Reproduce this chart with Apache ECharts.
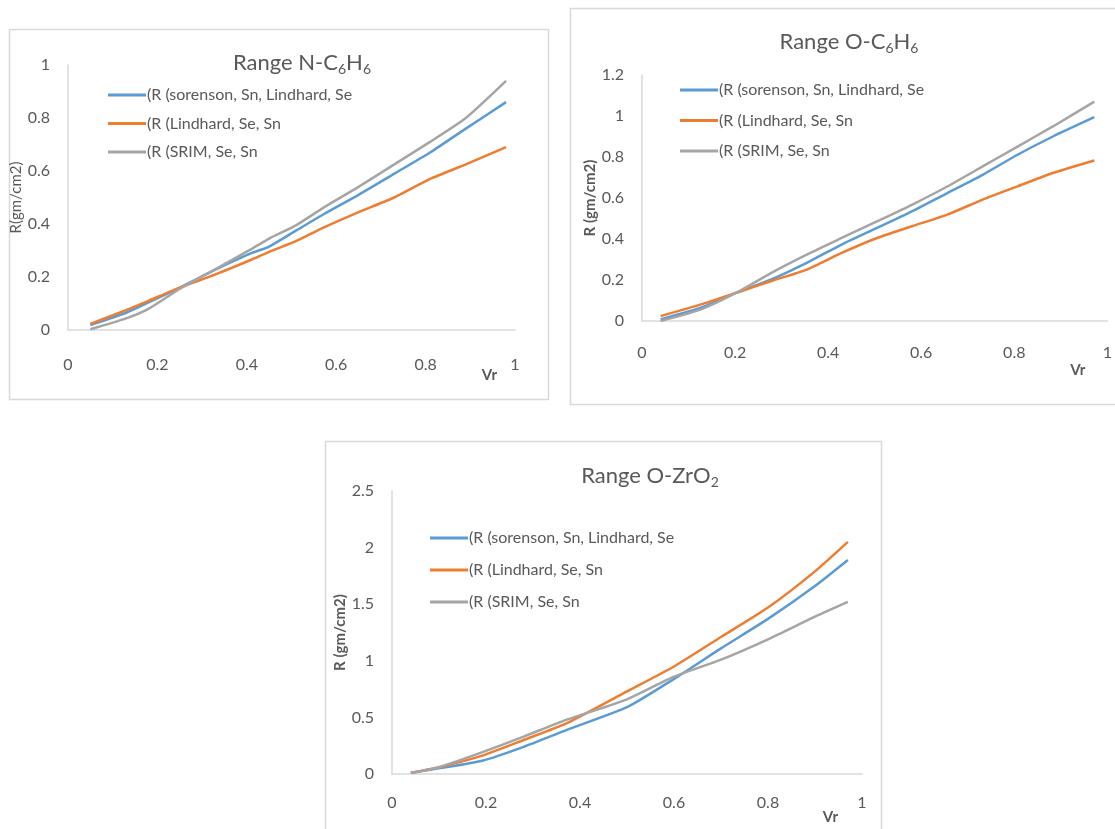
<!DOCTYPE html>
<html>
<head>
<meta charset="utf-8">
<script src="https://cdn.jsdelivr.net/npm/echarts@6/dist/echarts.min.js"></script>
<style>
  html, body { margin: 0; padding: 0; background: #fff; }
  #main { width: 1115px; height: 829px; }
</style>
</head>
<body>
<div id="main"></div>
<script>
// legend names, same for the three charts
const seriesNames = ["(R (sorenson, Sn, Lindhard, Se", "(R (Lindhard, Se, Sn", "(R (SRIM, Se, Sn"];
const colors = ["#5b9bd5", "#ed7d31", "#a5a5a5"];

// Range N-C6H6
const vrN = [0.05, 0.13, 0.18, 0.25, 0.33, 0.41, 0.45, 0.51, 0.57, 0.65, 0.73, 0.81, 0.89, 0.98];
const nSorenson = [0.019, 0.065, 0.104, 0.16, 0.228, 0.29, 0.315, 0.375, 0.435, 0.51, 0.59, 0.67, 0.76, 0.86];
const nLindhard = [0.023, 0.075, 0.11, 0.16, 0.21, 0.265, 0.295, 0.335, 0.385, 0.445, 0.50, 0.57, 0.625, 0.69];
const nSrim = [0.003, 0.044, 0.08, 0.155, 0.23, 0.305, 0.345, 0.395, 0.46, 0.54, 0.625, 0.71, 0.80, 0.94];

// Range O-C6H6
const vrO = [0.04, 0.127, 0.203, 0.278, 0.354, 0.429, 0.505, 0.58, 0.656, 0.732, 0.807, 0.883, 0.972];
const oSorenson = [0.008, 0.065, 0.138, 0.203, 0.284, 0.373, 0.454, 0.535, 0.624, 0.713, 0.811, 0.9, 0.994];
const oLindhard = [0.024, 0.081, 0.138, 0.195, 0.251, 0.332, 0.405, 0.462, 0.519, 0.592, 0.657, 0.722, 0.783];
const oSrim = [0.0, 0.057, 0.138, 0.235, 0.324, 0.405, 0.486, 0.567, 0.656, 0.754, 0.851, 0.949, 1.07];

// Range O-ZrO2
const vrZ = [0.04, 0.1, 0.194, 0.28, 0.372, 0.5, 0.6, 0.7, 0.8, 0.9, 0.97];
const zSorenson = [0.01, 0.05, 0.12, 0.24, 0.39, 0.59, 0.84, 1.11, 1.37, 1.66, 1.89];
const zLindhard = [0.01, 0.06, 0.165, 0.30, 0.45, 0.73, 0.95, 1.21, 1.47, 1.79, 2.05];
const zSrim = [0.01, 0.06, 0.195, 0.33, 0.48, 0.66, 0.86, 1.01, 1.19, 1.39, 1.52];

// y axis ticks
const yMaxN = 1, yStepN = 0.2;
const yMaxO = 1.2, yStepO = 0.2;
const yMaxZ = 2.5, yStepZ = 0.5;

const font = "Lato";
const grey = "#595959";

function pairs(xs, ys) {
  return xs.map((x, i) => [x, ys[i]]);
}

function titleOpt(left, top, main, sub1, sub2) {
  let text = "{a|" + main + "}{b|" + sub1 + "}";
  if (sub2 !== undefined) text += "{a|H}{b|" + sub2 + "}";
  return {
    text: text,
    left: left,
    top: top,
    textAlign: "center",
    padding: 0,
    textStyle: {
      fontWeight: "normal",
      rich: {
        a: { fontFamily: font, fontSize: 22, fontWeight: "normal", color: grey, lineHeight: 26 },
        b: { fontFamily: font, fontSize: 14, fontWeight: "normal", color: grey, lineHeight: 14, verticalAlign: "bottom" }
      }
    }
  };
}

function legendOpt(left, top, gap) {
  return {
    data: seriesNames.map((n) => ({ name: n, icon: "rect" })),
    orient: "vertical",
    left: left,
    top: top,
    itemWidth: 38,
    itemHeight: 3,
    itemGap: gap,
    padding: 0,
    selectedMode: false,
    textStyle: { fontFamily: font, fontSize: 16, color: grey, lineHeight: 16, padding: [0, 0, 0, -4] }
  };
}

function xAxisOpt(idx, margin, nameGap, namePad) {
  return {
    gridIndex: idx,
    type: "value",
    min: 0,
    max: 1,
    interval: 0.2,
    name: "Vr",
    nameLocation: "end",
    nameGap: nameGap,
    nameTextStyle: {
      fontFamily: font, fontSize: 15, fontWeight: "bold", color: grey,
      align: "right", verticalAlign: "top", padding: [namePad, 0, 0, 0]
    },
    axisLine: { show: true, lineStyle: { color: "#d9d9d9", width: 1.5 } },
    axisTick: { show: false },
    splitLine: { show: false },
    axisLabel: { margin: margin, fontFamily: font, fontSize: 16, color: grey }
  };
}

function yAxisOpt(idx, max, step, name, bold, nameGap) {
  return {
    gridIndex: idx,
    type: "value",
    min: 0,
    max: max,
    interval: step,
    name: name,
    nameLocation: "middle",
    nameGap: nameGap,
    nameTextStyle: { fontFamily: font, fontSize: 15, color: grey, fontWeight: bold ? "bold" : "normal" },
    axisLine: { show: true, lineStyle: { color: "#d9d9d9", width: 1.5 } },
    axisTick: { show: false },
    splitLine: { show: false },
    axisLabel: { margin: 18, fontFamily: font, fontSize: 16, color: grey }
  };
}

function lineSeries(idx, k, data) {
  return {
    name: seriesNames[k],
    type: "line",
    xAxisIndex: idx,
    yAxisIndex: idx,
    data: data,
    symbol: "none",
    smooth: 0.2,
    lineStyle: { width: 2.5, color: colors[k] },
    itemStyle: { color: colors[k] }
  };
}

const chart = echarts.init(document.getElementById("main"));

const option = {
  animation: false,
  backgroundColor: "#fff",
  graphic: [
    { type: "rect", shape: { x: 9.5, y: 29.5, width: 539, height: 370 }, style: { fill: "none", stroke: "#d9d9d9", lineWidth: 1.5 } },
    { type: "rect", shape: { x: 570.5, y: 8.5, width: 600, height: 396 }, style: { fill: "none", stroke: "#d9d9d9", lineWidth: 1.5 } },
    { type: "rect", shape: { x: 325.5, y: 441.5, width: 556, height: 420 }, style: { fill: "none", stroke: "#d9d9d9", lineWidth: 1.5 } }
  ],
  title: [
    titleOpt(302, 50, "Range N-C", "6", "6"),
    titleOpt(849, 29, "Range O-C", "6", "6"),
    titleOpt(650, 463, "Range O-ZrO", "2")
  ],
  legend: [
    legendOpt(108, 87, 12.5),
    legendOpt(680, 82, 14.5),
    legendOpt(430, 530, 16)
  ],
  grid: [
    { left: 68, top: 65, width: 447, height: 265 },
    { left: 642, top: 75, width: 468, height: 246 },
    { left: 392, top: 491, width: 470, height: 283 }
  ],
  xAxis: [
    xAxisOpt(0, 27, -18, 38),
    xAxisOpt(1, 24, -22, 42),
    xAxisOpt(2, 21, -24, 36)
  ],
  yAxis: [
    yAxisOpt(0, yMaxN, yStepN, "R(gm/cm2)", false, 38),
    yAxisOpt(1, yMaxO, yStepO, "R (gm/cm2)", true, 40),
    yAxisOpt(2, yMaxZ, yStepZ, "R (gm/cm2)", true, 40)
  ],
  series: [
    lineSeries(0, 0, pairs(vrN, nSorenson)),
    lineSeries(0, 1, pairs(vrN, nLindhard)),
    lineSeries(0, 2, pairs(vrN, nSrim)),
    lineSeries(1, 0, pairs(vrO, oSorenson)),
    lineSeries(1, 1, pairs(vrO, oLindhard)),
    lineSeries(1, 2, pairs(vrO, oSrim)),
    lineSeries(2, 0, pairs(vrZ, zSorenson)),
    lineSeries(2, 1, pairs(vrZ, zLindhard)),
    lineSeries(2, 2, pairs(vrZ, zSrim))
  ]
};

chart.setOption(option);
</script>
</body>
</html>
